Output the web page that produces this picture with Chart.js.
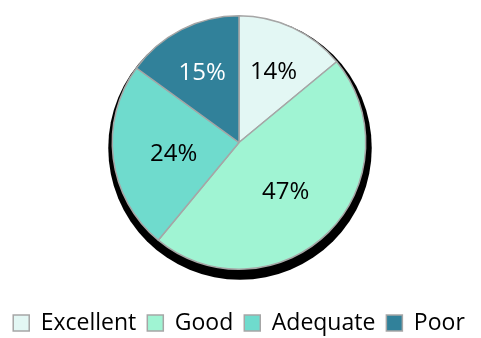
<!DOCTYPE html>
<html>
<head>
<meta charset="utf-8">
<script src="https://cdn.jsdelivr.net/npm/chart.js@4/dist/chart.umd.min.js"></script>
<style>
  html, body { margin: 0; padding: 0; background: #fff; }
  #wrap { width: 481px; height: 338px; }
</style>
</head>
<body>
<div id="wrap"><canvas id="pieChart"></canvas></div>
<script>
// Ratings share
const categories = ['Excellent', 'Good', 'Adequate', 'Poor'];
const shares     = [14, 47, 24, 15];
const colors     = ['#E3F7F4', '#A0F4D3', '#6FDBCD', '#31819A'];
const labelInk   = ['#000', '#000', '#000', '#fff'];

const FONT = '"Open Sans", "Liberation Sans", sans-serif';

// dark shadow behind the pie, dropped a little down
const pieShadow = {
  id: 'pieShadow',
  beforeDatasetsDraw(chart) {
    const arc = chart.getDatasetMeta(0).data[0];
    if (!arc) return;
    const { x, y, outerRadius } = arc.getProps(['x', 'y', 'outerRadius'], true);
    const ctx = chart.ctx;
    ctx.save();
    ctx.fillStyle = '#000';
    ctx.beginPath();
    ctx.arc(x + 1, y + 5.5, outerRadius + 5, 0, Math.PI * 2);
    ctx.fill();
    ctx.restore();
  }
};

// percentage text inside each slice
const sliceLabels = {
  id: 'sliceLabels',
  afterDatasetsDraw(chart) {
    const ctx = chart.ctx;
    const meta = chart.getDatasetMeta(0);
    ctx.save();
    ctx.font = '24px ' + FONT;
    ctx.textAlign = 'center';
    ctx.textBaseline = 'middle';
    meta.data.forEach((arc, i) => {
      const p = arc.getProps(['x', 'y', 'startAngle', 'endAngle', 'outerRadius'], true);
      const mid = (p.startAngle + p.endAngle) / 2;
      const r = p.outerRadius * (shares[i] > 20 ? 0.52 : 0.64);
      ctx.fillStyle = labelInk[i];
      ctx.fillText(shares[i] + '%', p.x + Math.cos(mid) * r, p.y + Math.sin(mid) * r + 3);
    });
    ctx.restore();
  }
};

new Chart(document.getElementById('pieChart'), {
  type: 'pie',
  data: {
    labels: categories,
    datasets: [{
      data: shares,
      backgroundColor: colors,
      borderColor: '#A6A6A6',
      borderWidth: 1.5
    }]
  },
  options: {
    responsive: true,
    maintainAspectRatio: false,
    animation: false,
    layout: { padding: { top: 15, bottom: -6.5, left: 0, right: 3 } },
    plugins: {
      legend: {
        position: 'bottom',
        // empty title only opens a gap between pie and legend row
        title: { display: true, text: '', font: { size: 10 }, padding: { top: 0, bottom: 18.5 } },
        labels: {
          color: '#000',
          font: { family: FONT, size: 23 },
          boxWidth: 16,
          boxHeight: 16,
          padding: 11
        }
      },
      tooltip: { enabled: false }
    }
  },
  plugins: [pieShadow, sliceLabels]
});
</script>
</body>
</html>
